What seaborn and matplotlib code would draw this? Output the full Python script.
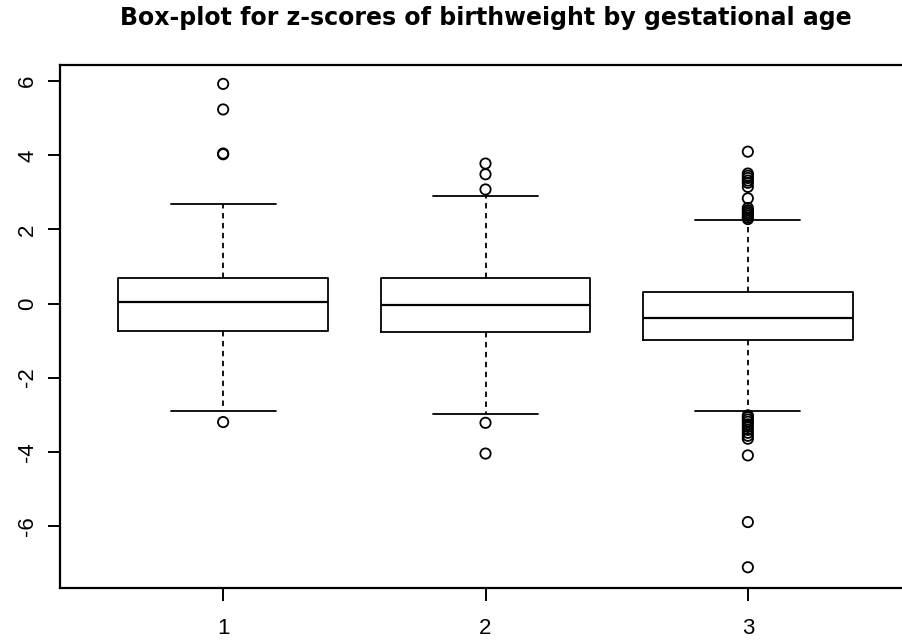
import numpy as np
import pandas as pd
import matplotlib
matplotlib.use("Agg")
import matplotlib.pyplot as plt
import seaborn as sns

# ---- data ----
groups = ["1", "2", "3"]
positions = [1, 2, 3]
whisker_low = [-2.90, -2.97, -2.91]
q1 = [-0.75, -0.78, -0.99]
median = [0.03, -0.03, -0.38]
q3 = [0.69, 0.69, 0.31]
whisker_high = [2.68, 2.91, 2.25]

outliers_1 = [5.93, 5.24, 4.05, 4.03, -3.20]
outliers_2 = [3.78, 3.49, 3.08, -3.22, -4.05]
outliers_3 = [4.10, 3.51, 3.45, 3.39, 3.32, 3.26, 3.15, 2.84, 2.58, 2.52, 2.47,
              2.42, 2.37, 2.32, 2.28,
              -3.02, -3.07, -3.13, -3.19, -3.26, -3.33, -3.41, -3.49, -3.57,
              -3.65, -4.10, -5.90, -7.12]
y_ticks = [-6, -4, -2, 0, 2, 4, 6]
title = "Box-plot for z-scores of birthweight by gestational age"

sns.set_style("ticks")
plt.rcParams["font.family"] = ["Liberation Sans", "DejaVu Sans"]
plt.rcParams["text.color"] = "black"

fig = plt.figure(figsize=(9.03, 6.43), dpi=100)
ax = fig.add_axes([60.5 / 903, 55 / 643, 850 / 903, 523 / 643])

stats = []
for i in range(3):
    stats.append(dict(label=groups[i], whislo=whisker_low[i], q1=q1[i],
                      med=median[i], q3=q3[i], whishi=whisker_high[i],
                      fliers=[]))

ax.bxp(stats, positions=positions, widths=0.8, showfliers=False,
       boxprops=dict(color="black", linewidth=1.3),
       medianprops=dict(color="black", linewidth=1.6),
       whiskerprops=dict(color="black", linewidth=1.3, linestyle=(0, (3, 2.5))),
       capprops=dict(color="black", linewidth=1.3),
       capwidths=0.4)

out_df = pd.DataFrame({
    "x": [1] * len(outliers_1) + [2] * len(outliers_2) + [3] * len(outliers_3),
    "z": outliers_1 + outliers_2 + outliers_3,
})
sns.scatterplot(data=out_df, x="x", y="z", ax=ax, marker="o", s=55,
                facecolor="none", edgecolor="black", linewidth=1.3, zorder=3)

ax.set_xlim(0.38, 3.62)
ax.set_ylim(-7.68, 6.44)
ax.set_xticks(positions)
ax.set_xticklabels(groups)
ax.set_yticks(y_ticks)
ax.set_yticklabels([str(t) for t in y_ticks], rotation=90, va="center")
ax.set_xlabel("")
ax.set_ylabel("")
ax.tick_params(axis="both", direction="out", length=9, width=1.4,
               labelsize=16, colors="black")
ax.tick_params(axis="x", pad=12.5)
ax.tick_params(axis="y", pad=7)
for s in ax.spines.values():
    s.set_visible(True)
    s.set_linewidth(1.6)
    s.set_color("black")
ax.set_title(title, fontsize=17, fontweight="bold", pad=29, color="black",
             family=["DejaVu Sans"])

fig.savefig("out.png", dpi=100)
